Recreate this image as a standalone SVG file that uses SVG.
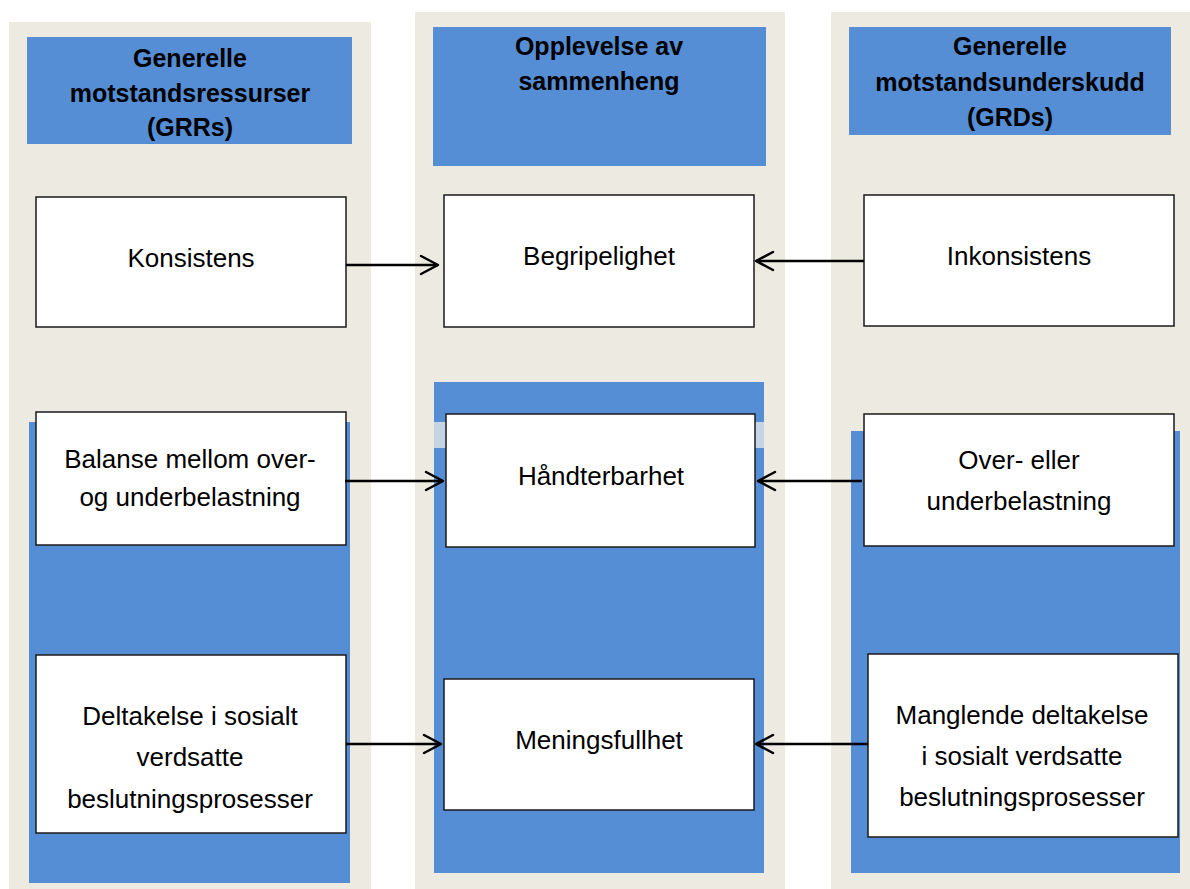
<svg xmlns="http://www.w3.org/2000/svg" width="1190" height="889" viewBox="0 0 1190 889">
<style>
.bg{fill:#EDEBE1}
.blue{fill:#558ED5}
.box{fill:#FFFFFF;stroke:#1a1a1a;stroke-width:1.5}
.t{font-family:"Liberation Sans",Arial,sans-serif;font-size:26px;fill:#000;text-anchor:middle}
.h{font-family:"Liberation Sans",Arial,sans-serif;font-size:25px;font-weight:bold;fill:#000;text-anchor:middle}
.conn{stroke:#000;stroke-width:2.5;fill:none;marker-end:url(#arr)}
</style>
<defs>
<marker id="arr" markerWidth="22" markerHeight="22" refX="19" refY="11" orient="auto" markerUnits="userSpaceOnUse" viewBox="0 0 22 22">
<path d="M2,2 L19,11 L2,20" fill="none" stroke="#000" stroke-width="2.5" stroke-linecap="round" stroke-linejoin="round"/>
</marker>
</defs>
<rect width="1190" height="889" fill="#FFFFFF"/>
<g id="columns">
<rect class="bg" x="9" y="22" width="362" height="867"/>
<rect class="bg" x="415" y="12" width="370" height="877"/>
<rect class="bg" x="831" y="12" width="359" height="877"/>
<rect class="blue" x="29" y="422" width="321" height="461"/>
<rect class="blue" x="434" y="382" width="330" height="491"/>
<rect fill="#C5D5E6" x="434" y="422" width="330" height="26"/>
<rect class="blue" x="851" y="431" width="329" height="442"/>
</g>
<g id="header-grr">
<rect class="blue" x="27" y="37" width="325" height="107"/>
<text class="h" x="190" y="67">Generelle</text>
<text class="h" x="190" y="102">motstandsressurser</text>
<text class="h" x="190" y="136">(GRRs)</text>
</g>
<g id="header-soc">
<rect class="blue" x="433" y="27" width="333" height="139"/>
<text class="h" x="599" y="55">Opplevelse av</text>
<text class="h" x="599" y="90">sammenheng</text>
</g>
<g id="header-grd">
<rect class="blue" x="849" y="27" width="322" height="108"/>
<text class="h" x="1010" y="55">Generelle</text>
<text class="h" x="1010" y="91">motstandsunderskudd</text>
<text class="h" x="1010" y="126">(GRDs)</text>
</g>
<g id="konsistens">
<rect class="box" x="36" y="197" width="310" height="130"/>
<text class="t" x="191" y="267">Konsistens</text>
</g>
<g id="begripelighet">
<rect class="box" x="444" y="195" width="310" height="132"/>
<text class="t" x="599" y="265">Begripelighet</text>
</g>
<g id="inkonsistens">
<rect class="box" x="864" y="195" width="310" height="131"/>
<text class="t" x="1019" y="265">Inkonsistens</text>
</g>
<g id="balanse">
<rect class="box" x="36" y="412" width="310" height="133"/>
<text class="t" x="190" y="468">Balanse mellom over-</text>
<text class="t" x="190" y="506">og underbelastning</text>
</g>
<g id="handterbarhet">
<rect class="box" x="446" y="414" width="309" height="133"/>
<text class="t" x="601" y="485">Håndterbarhet</text>
</g>
<g id="over-eller">
<rect class="box" x="864" y="414" width="310" height="132"/>
<text class="t" x="1019" y="469">Over- eller</text>
<text class="t" x="1019" y="510">underbelastning</text>
</g>
<g id="deltakelse">
<rect class="box" x="36" y="655" width="310" height="178"/>
<text class="t" x="190" y="725">Deltakelse i sosialt</text>
<text class="t" x="190" y="766">verdsatte</text>
<text class="t" x="190" y="808">beslutningsprosesser</text>
</g>
<g id="meningsfullhet">
<rect class="box" x="444" y="679" width="310" height="131"/>
<text class="t" x="599" y="749">Meningsfullhet</text>
</g>
<g id="manglende">
<rect class="box" x="868" y="654" width="310" height="183"/>
<text class="t" x="1022" y="724">Manglende deltakelse</text>
<text class="t" x="1022" y="765">i sosialt verdsatte</text>
<text class="t" x="1022" y="806">beslutningsprosesser</text>
</g>
<g id="connectors">
<line class="conn" x1="346" y1="265" x2="438" y2="265"/>
<line class="conn" x1="864" y1="261" x2="756" y2="261"/>
<line class="conn" x1="345" y1="481" x2="443" y2="481"/>
<line class="conn" x1="862" y1="481" x2="758" y2="481"/>
<line class="conn" x1="346" y1="744" x2="441" y2="744"/>
<line class="conn" x1="868" y1="744" x2="756" y2="744"/>
</g>
</svg>
